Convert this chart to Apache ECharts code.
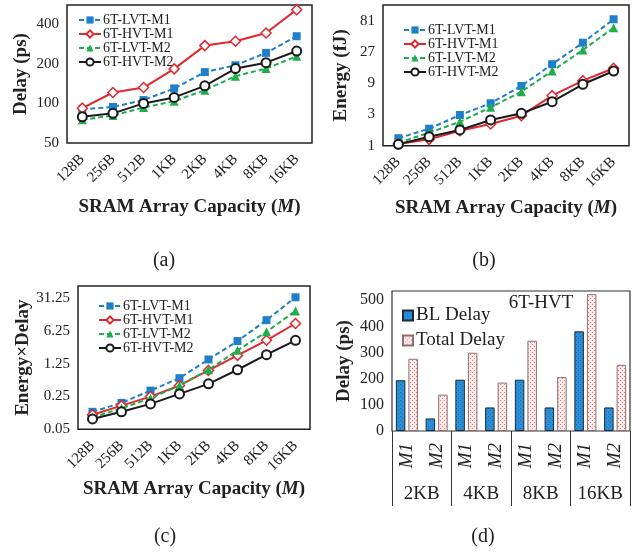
<!DOCTYPE html>
<html><head><meta charset="utf-8">
<script src="https://cdn.jsdelivr.net/npm/echarts@6/dist/echarts.min.js"></script>
<style>html,body{margin:0;padding:0;background:#fff}#c{width:632px;height:552px}</style>
</head><body><div id="c"></div>
<script>
// ---- data ----
const categories = ['128B','256B','512B','1KB','2KB','4KB','8KB','16KB'];
const seriesNames = ['6T-LVT-M1','6T-HVT-M1','6T-LVT-M2','6T-HVT-M2'];
// (a) Delay (ps)
const delayLvtM1 = [90, 94, 106, 130, 173, 195, 242, 324];
const delayHvtM1 = [92, 121, 132, 183, 275, 297, 343, 516];
const delayLvtM2 = [75, 81, 93, 104, 126, 161, 184, 228];
const delayHvtM2 = [79, 84, 100, 111, 136, 184, 204, 250];
// (b) Energy (fJ)
const energyLvtM1 = [1.3, 1.82, 2.94, 4.44, 8.17, 17.5, 37.3, 85];
const energyHvtM1 = [1.06, 1.25, 1.69, 2.14, 2.87, 5.8, 9.83, 15.2];
const energyLvtM2 = [1.11, 1.58, 2.32, 3.85, 6.67, 13.8, 28.9, 63];
const energyHvtM2 = [1.05, 1.37, 1.74, 2.47, 3.12, 4.69, 8.66, 13.8];
// (c) Energy x Delay
const edpLvtM1 = [0.118, 0.183, 0.334, 0.616, 1.54, 3.8, 10.6, 32.6];
const edpHvtM1 = [0.102, 0.16, 0.249, 0.43, 0.9, 1.88, 3.95, 9.0];
const edpLvtM2 = [0.09, 0.14, 0.229, 0.43, 0.93, 2.41, 5.97, 16.7];
const edpHvtM2 = [0.083, 0.118, 0.174, 0.284, 0.466, 0.93, 1.95, 3.95];
// tick labels (log axes)
const delayTicks = ['50','100','200','400'];
const energyTicks = ['1','3','9','27','81'];
const edpTicks = ['0.05','0.25','1.25','6.25','31.25'];
// (d) bars
const barCategories = ['M1','M2','M1','M2','M1','M2','M1','M2'];
const groupCategories = ['2KB','4KB','8KB','16KB'];
const blDelay = [194, 48, 196, 90, 196, 90, 381, 90];
const totalDelay = [276, 139, 299, 185, 345, 206, 523, 253];
const barLegend = ['BL Delay','Total Delay'];

// ---- rendering ----
const FONT = '"Liberation Serif","Times New Roman",serif';
const TXT = '#222';
const chart = echarts.init(document.getElementById('c'), null, {renderer:'canvas'});

const logT = (base, b) => v => Math.log(v / base) / Math.log(b);
const panels = [
  {data:[delayLvtM1,delayHvtM1,delayLvtM2,delayHvtM2], tf:logT(50,2), max:3.485, ticks:delayTicks,
   grid:{left:67, top:5, width:245, height:138}, yName:'Delay (ps)', yGap:36, xGap:55,
   legend:{left:73, top:8}},
  {data:[energyLvtM1,energyHvtM1,energyLvtM2,energyHvtM2], tf:logT(1,3), max:4.5, ticks:energyTicks,
   grid:{left:383, top:5, width:246, height:140.7}, yName:'Energy (fJ)', yGap:32, xGap:53,
   legend:{left:398, top:18}},
  {data:[edpLvtM1,edpHvtM1,edpLvtM2,edpHvtM2], tf:logT(0.05,5), max:4.37, ticks:edpTicks,
   grid:{left:78, top:286, width:232, height:143.3}, yName:'Energy×Delay', yGap:43, xGap:50,
   legend:{left:93, top:294}}
];
const styles = [
  {color:'#1f7fc8', type:[5,3], symbol:'rect', size:8, fill:'#1f7fc8', bw:0},
  {color:'#e0282e', type:'solid', symbol:'diamond', size:10, fill:'#ffffff', bw:1.5},
  {color:'#1fae4b', type:[5,3], symbol:'triangle', size:9, fill:'#1fae4b', bw:0},
  {color:'#1a1a1a', type:'solid', symbol:'circle', size:9, fill:'#ffffff', bw:2}
];

function makePattern(bg, dot) {
  const c = document.createElement('canvas'); c.width = 4; c.height = 4;
  const g = c.getContext('2d');
  g.fillStyle = bg; g.fillRect(0,0,4,4);
  g.fillStyle = dot; g.fillRect(0,0,1,1); g.fillRect(2,2,1,1);
  return c;
}
const bluePat = {image: makePattern('#2a8fd8','#1b6fb2'), repeat:'repeat'};
const pinkPat = {image: makePattern('#fde8e8','#e58080'), repeat:'repeat'};

const grids = [], xAxes = [], yAxes = [], series = [], legends = [];
const xNameRich = {b:{fontFamily:FONT, fontWeight:'bold', fontSize:19, color:TXT},
                   i:{fontFamily:FONT, fontWeight:'bold', fontStyle:'italic', fontSize:19, color:TXT}};
panels.forEach((p, pi) => {
  grids.push(Object.assign({show:true, borderColor:'#222', borderWidth:1.5, backgroundColor:'#fff'}, p.grid));
  xAxes.push({type:'category', gridIndex:pi, data:categories, boundaryGap:true,
    axisLine:{show:false}, axisTick:{show:false},
    axisLabel:{rotate:45, fontFamily:FONT, fontSize:15, color:TXT, margin:14},
    name:'{b|SRAM Array Capacity (}{i|M}{b|)}', nameLocation:'middle', nameGap:p.xGap,
    nameTextStyle:{rich:xNameRich}});
  yAxes.push({type:'value', gridIndex:pi, min:0, max:p.max, interval:1,
    axisLine:{show:false}, axisTick:{show:false}, splitLine:{show:false},
    axisLabel:{fontFamily:FONT, fontSize:15, color:TXT, margin:8,
      formatter:(v)=>{const k=Math.round(v); return Math.abs(v-k)<1e-6 && p.ticks[k]!==undefined ? p.ticks[k] : '';}},
    name:p.yName, nameLocation:'middle', nameGap:p.yGap,
    nameTextStyle:{fontFamily:FONT, fontWeight:'bold', fontSize:19, color:TXT}});
  p.data.forEach((arr, si) => {
    const st = styles[si];
    series.push({type:'line', name:seriesNames[si], xAxisIndex:pi, yAxisIndex:pi,
      data:arr.map(p.tf), symbol:st.symbol, symbolSize:st.size, showSymbol:true,
      lineStyle:{color:st.color, width:2, type:st.type},
      itemStyle:{color:st.fill, borderColor:st.color, borderWidth:st.bw},
      z:3+si, animation:false});
  });
  legends.push({orient:'vertical', left:p.legend.left, top:p.legend.top, itemGap:0,
    itemWidth:22, itemHeight:9, data:seriesNames, selectedMode:false,
    textStyle:{fontFamily:FONT, fontSize:14, color:TXT, padding:[0,0,0,-3], lineHeight:14}});
});

// (d)
grids.push({show:true, left:392, top:291, width:238, height:140, borderColor:'#333', borderWidth:1.2, backgroundColor:'#fff'});
xAxes.push({type:'category', gridIndex:3, data:barCategories, boundaryGap:true,
  axisLine:{show:false}, axisTick:{show:false},
  axisLabel:{rotate:90, fontFamily:FONT, fontStyle:'italic', fontSize:19, color:TXT, margin:12}});
xAxes.push({type:'category', gridIndex:3, data:groupCategories, position:'bottom', boundaryGap:true,
  axisLine:{show:false}, axisTick:{show:true, length:75, lineStyle:{color:'#333', width:1}},
  axisLabel:{fontFamily:FONT, fontSize:19, color:TXT, margin:54}});
yAxes.push({type:'value', gridIndex:3, min:0, max:535, interval:100,
  axisLine:{show:false}, axisTick:{show:false}, splitLine:{show:false},
  axisLabel:{fontFamily:FONT, fontSize:16, color:TXT, margin:8,
    formatter:(v)=> (v % 100 === 0 ? String(v) : '')},
  name:'Delay (ps)', nameLocation:'middle', nameGap:38,
  nameTextStyle:{fontFamily:FONT, fontWeight:'bold', fontSize:19, color:TXT}});
series.push({type:'bar', name:barLegend[0], xAxisIndex:3, yAxisIndex:3, data:blDelay,
  barWidth:9.5, barGap:'32%', itemStyle:{color:bluePat, borderColor:'#1c2a38', borderWidth:1}, animation:false});
series.push({type:'bar', name:barLegend[1], xAxisIndex:3, yAxisIndex:3, data:totalDelay,
  barWidth:9.5, barGap:'32%', itemStyle:{color:pinkPat, borderColor:'#8a7070', borderWidth:1}, animation:false});
legends.push({orient:'vertical', left:397, top:301, itemGap:6, itemWidth:10, itemHeight:10,
  icon:'rect', data:barLegend, selectedMode:false,
  textStyle:{fontFamily:FONT, fontSize:19, color:TXT, padding:[0,0,0,-2]}});

const cap = (t, x, y) => ({type:'text', x:x, y:y, style:{text:t, fontFamily:FONT, fontSize:20, fill:TXT,
  align:'center', verticalAlign:'middle', textAlign:'center', textVerticalAlign:'middle'}});

chart.setOption({
  animation:false,
  grid:grids, xAxis:xAxes, yAxis:yAxes, series:series, legend:legends,
  graphic:[cap('(a)',164,261), cap('(b)',484,261), cap('(c)',165,537), cap('(d)',483,537),
    {type:'text', x:541, y:303, style:{text:'6T-HVT', fontFamily:FONT, fontSize:19, fill:TXT,
      align:'center', verticalAlign:'middle', textAlign:'center', textVerticalAlign:'middle'}}]
});
</script></body></html>
